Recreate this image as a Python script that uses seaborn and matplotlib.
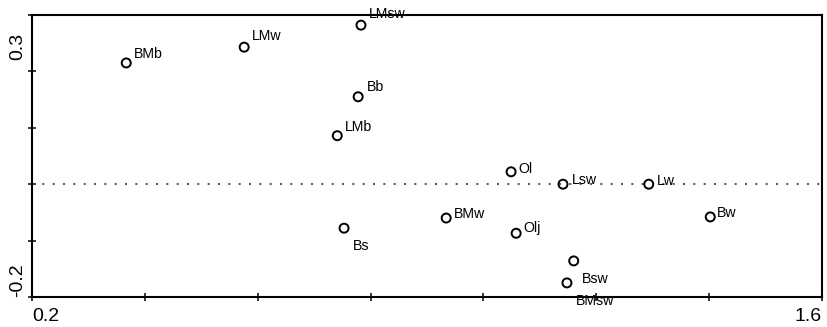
import numpy as np
import pandas as pd
import matplotlib
matplotlib.use("Agg")
import matplotlib.pyplot as plt
import matplotlib.transforms as mtrans
import seaborn as sns

# point labels and coordinates
labels = ["BMb", "LMw", "LMsw", "Bb", "LMb", "Ol", "Lsw", "Lw",
          "BMw", "Bw", "Bs", "Olj", "Bsw", "BMsw"]
x_vals = [0.367, 0.576, 0.783, 0.778, 0.741, 1.049, 1.141, 1.293,
          0.934, 1.402, 0.753, 1.058, 1.160, 1.148]
y_vals = [0.215, 0.243, 0.282, 0.155, 0.086, 0.022, 0.000, 0.000,
          -0.060, -0.058, -0.078, -0.087, -0.136, -0.175]

x_ticks = [0.2, 0.4, 0.6, 0.8, 1.0, 1.2, 1.4, 1.6]
x_ticklabels = ["0.2", "", "", "", "", "", "", "1.6"]
y_ticks = [-0.2, -0.1, 0.0, 0.1, 0.2, 0.3]
y_ticklabels = ["-0.2", "", "", "", "", "0.3"]

df = pd.DataFrame({"label": labels, "x": x_vals, "y": y_vals})

# label placement (pixel offsets from the point)
label_offsets = {
    "BMb": (8, 5), "LMw": (8, 7), "LMsw": (8, 7), "Bb": (9, 6), "LMb": (8, 5),
    "Ol": (7, -1), "Lsw": (9, 0), "Lw": (8, -1), "BMw": (8, 0), "Bw": (7, 0),
    "Bs": (9, -22), "Olj": (7, 1), "Bsw": (8, -22), "BMsw": (9, -22),
}

sns.set_style("ticks")
plt.rcParams["font.family"] = ["Liberation Sans", "DejaVu Sans"]

fig = plt.figure(figsize=(8.27, 3.27), dpi=100)
ax = fig.add_axes([32 / 827, 1 - 297 / 327, 790 / 827, 282 / 327])

ax.axhline(0, color="#333333", lw=1.2, ls=(0, (1.2, 5.0)), zorder=1)

sns.scatterplot(data=df, x="x", y="y", ax=ax, s=42, marker="o",
                facecolor="none", edgecolor="black", linewidth=1.4,
                zorder=3, legend=False)

for lab, xv, yv in zip(df["label"], df["x"], df["y"]):
    dx, dy = label_offsets[lab]
    ax.annotate(lab, (xv, yv), xytext=(dx, dy), textcoords="offset pixels",
                ha="left", va="baseline", fontsize=10.2, color="black",
                annotation_clip=False, zorder=4)

ax.set_xlim(0.2, 1.6)
ax.set_ylim(-0.2, 0.3)
ax.set_xticks(x_ticks)
ax.set_xticklabels(x_ticklabels, fontsize=14)
ax.set_yticks(y_ticks)
ax.set_yticklabels(y_ticklabels, fontsize=14, rotation=90)
ax.set_xlabel("")
ax.set_ylabel("")

for sp in ax.spines.values():
    sp.set_visible(True)
    sp.set_linewidth(1.5)
    sp.set_color("black")

ax.tick_params(axis="both", direction="inout", length=6, width=1.1,
               color="black", labelcolor="black")
ax.tick_params(axis="x", pad=5)
ax.tick_params(axis="y", pad=1)

# end labels aligned to the axis ends
xl = ax.get_xticklabels()
xl[0].set_ha("left")
xl[-1].set_ha("right")
yl = ax.get_yticklabels()
yl[0].set_va("bottom")
yl[-1].set_va("top")
yl[-1].set_transform(yl[-1].get_transform() +
                     mtrans.ScaledTranslation(0, -18 / 100, fig.dpi_scale_trans))

fig.savefig("out.png", dpi=100)
